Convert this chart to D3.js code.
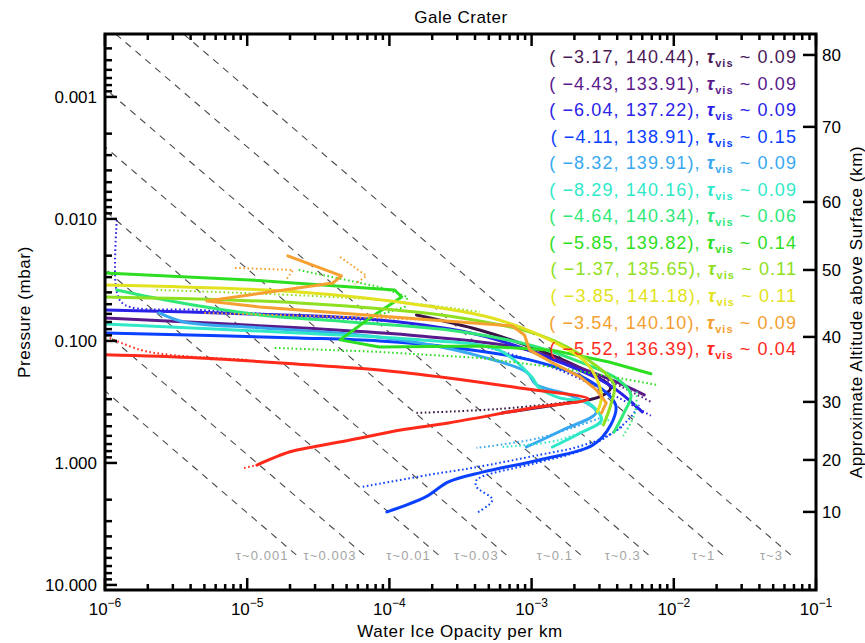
<!DOCTYPE html>
<html><head><meta charset="utf-8">
<script src="https://cdn.jsdelivr.net/npm/d3@7"></script>
<style>
body{margin:0;background:#fff;}
svg{display:block;font-family:"Liberation Sans",Arial,sans-serif;}
</style></head>
<body><svg id="c" width="865" height="643"></svg>
<script>
// ---------------- DATA ----------------
const legendCoords = ["( \u22123.17, 140.44),","( \u22124.43, 133.91),","( \u22126.04, 137.22),","( \u22124.11, 138.91),",
  "( \u22128.32, 139.91),","( \u22128.29, 140.16),","( \u22124.64, 140.34),","( \u22125.85, 139.82),",
  "( \u22121.37, 135.65),","( \u22123.85, 141.18),","( \u22123.54, 140.10),","( \u22125.52, 136.39),"];
const tauVis = ["0.09","0.09","0.09","0.15","0.09","0.09","0.06","0.14","0.11","0.11","0.09","0.04"];
const colors = ["#3a1245","#5a1a8c","#2a22e6","#0a40ff","#38a8f0","#30e8c8","#30e878","#2ede22","#8ee020","#e2e220","#f5a030","#ff2a1a"];
const textColors = ["#4a1a58","#5a1a8c","#2a22e6","#0a40ff","#38a8f0","#30e8c8","#30e878","#2ede22","#8ee020","#e2e220","#f5a030","#ff2a1a"];

// profiles: [opacity per km, pressure mbar]
const solid1 = [[1.55e-4,0.0612],[4.3e-4,0.0813],[1.13e-3,0.119],[2.5e-3,0.180],[3.6e-3,0.243],[3.0e-3,0.288],[1.65e-3,0.328],[6.2e-4,0.389]];
const dotted1 = [[1.55e-4,0.389],[5.9e-4,0.361],[2.5e-3,0.305]];
const solid2 = [[1e-6,0.0648],[2.3e-5,0.078],[1.63e-4,0.091],[8.2e-4,0.114],[2.2e-3,0.166],[4.1e-3,0.221],[6.2e-3,0.277]];
const dotted2 = [[2.5e-3,0.180],[4.3e-3,0.238],[6.9e-3,0.316]];
const solid3 = [[1e-6,0.0557],[1.04e-5,0.0601],[8.5e-5,0.0673],[4.3e-4,0.0893],[1.57e-3,0.149],[3.5e-3,0.229],[6.0e-3,0.382]];
const dotted3a = [[1.21e-6,0.0102],[1.21e-6,0.0397],[1.38e-6,0.0507],[4.6e-6,0.0557],[2.3e-5,0.0624],[1.2e-4,0.0699]];
const dotted3b = [[4.3e-4,0.108],[1.57e-3,0.173],[4.1e-3,0.293],[6.9e-3,0.41]];
const solid4 = [[1e-6,0.086],[2.3e-5,0.0945],[8.5e-5,0.100],[2.6e-4,0.112],[9.7e-4,0.143],[2.5e-3,0.209],[3.9e-3,0.335],[3.6e-3,0.488],[2.7e-3,0.712],[1.13e-3,0.945],[4.5e-4,1.19],[2.6e-4,1.43],[1.8e-4,1.90],[9.6e-5,2.52]];
const dotted4a = [[6.5e-5,1.57],[1.9e-4,1.25],[3.8e-4,1.10],[1.13e-3,0.86],[2.1e-3,0.74],[3.5e-3,0.59],[4.9e-3,0.43],[5.7e-3,0.335]];
const dotted4b = [[4.3e-3,0.507],[2.3e-3,0.78],[1.08e-3,1.0],[4.1e-4,1.38],[4.1e-4,1.57],[5.3e-4,2.01],[4.1e-4,2.57]];
const solid5 = [[2.4e-6,0.059],[3.6e-6,0.0699],[1.22e-5,0.078],[5.3e-5,0.0877],[1.63e-4,0.104],[4.5e-4,0.135],[9.2e-4,0.18],[1.08e-3,0.229],[1.84e-3,0.277],[2.85e-3,0.382],[1.65e-3,0.537],[9.2e-4,0.74]];
const dotted5 = [[3.0e-3,0.43],[1.13e-3,0.624],[4.1e-4,0.753]];
const solid6 = [[1e-6,0.0726],[2.3e-5,0.086],[1.63e-4,0.098],[5.9e-4,0.119],[1.0e-3,0.197],[1.13e-3,0.243],[1.57e-3,0.293],[2.5e-3,0.322],[3.1e-3,0.444],[2.2e-3,0.568],[1.4e-3,0.74]];
const dotted6 = [[3.5e-3,0.444],[1.57e-3,0.648],[6.2e-4,0.74]];
const solid7 = [[1.21e-6,0.0382],[2.07e-6,0.0436],[4.6e-6,0.0517],[1.22e-5,0.0612],[5.3e-5,0.0699],[2.6e-4,0.0813],[9.7e-4,0.108],[2.2e-3,0.149],[4.1e-3,0.209],[5.0e-3,0.277],[4.5e-3,0.382],[3.8e-3,0.557]];
const dotted7 = [[5.5e-3,0.26],[5.3e-3,0.40],[4.4e-3,0.60]];
const solid8 = [[1e-6,0.0277],[1.04e-5,0.0316],[1.09e-4,0.0382],[1.22e-4,0.0436],[7.3e-5,0.0648],[4.5e-5,0.098],[8.5e-5,0.112],[4.3e-4,0.110],[1.4e-3,0.119],[3.5e-3,0.149],[6.9e-3,0.186]];
const dotted8a = [[2.3e-5,0.0262],[8.5e-5,0.0361],[1.34e-4,0.0436],[1.28e-4,0.0526],[8.5e-5,0.0612]];
const dotted8b = [[1.56e-5,0.114],[8.5e-5,0.123],[4.3e-4,0.138],[1.57e-3,0.166],[4.1e-3,0.201],[7.6e-3,0.229]];
const solid9 = [[1e-6,0.0436],[2.3e-5,0.0488],[2.6e-4,0.0624],[1.13e-3,0.0893],[2.5e-3,0.143],[3.8e-3,0.229],[3.6e-3,0.335],[3.2e-3,0.488]];
const dotted9 = [[2.3e-6,0.0382],[8.5e-5,0.0461],[4.3e-4,0.0578]];
const solid10 = [[1e-6,0.0348],[2.3e-5,0.0397],[1.63e-4,0.0507],[5.9e-4,0.0673],[1.57e-3,0.108],[2.5e-3,0.157],[3.1e-3,0.277],[2.9e-3,0.382]];
const solid11 = [[1.93e-5,0.0201],[4.6e-5,0.0293],[4.0e-5,0.0335],[5.2e-6,0.047],[1.22e-5,0.0526],[8.5e-5,0.0624],[3.1e-4,0.0699],[7.3e-4,0.0753],[8.9e-4,0.0893],[9.7e-4,0.119],[1.4e-3,0.151],[2.2e-3,0.197],[2.85e-3,0.252],[3.35e-3,0.322],[3.1e-3,0.389]];
const dotted11a = [[8.2e-6,0.0252],[2.1e-5,0.0262],[1.9e-5,0.031]];
const dotted11b = [[4.5e-5,0.0205],[6.9e-5,0.0293],[5.7e-5,0.0343]];
const dotted11c = [[5.0e-6,0.059],[8.5e-5,0.0648],[3.6e-4,0.0699]];
const solid12 = [[1e-6,0.130],[4.6e-6,0.138],[2.3e-5,0.155],[8.5e-5,0.173],[2.6e-4,0.201],[8.2e-4,0.243],[2.5e-3,0.299],[1.0e-3,0.354],[2.6e-4,0.470],[1.2e-4,0.537],[5.3e-5,0.648],[2.9e-5,0.739],[2.0e-5,0.81],[1.17e-5,1.04]];
const dotted12a = [[1.08e-6,0.0945],[1.76e-6,0.118],[2.86e-6,0.130],[1.04e-5,0.143]];
const dotted12b = [[9.5e-6,1.10],[1.17e-5,1.04]];

const solids = [solid1,solid2,solid3,solid4,solid5,solid6,solid7,solid8,solid9,solid10,solid11,solid12];
const dotteds = [[dotted1],[dotted2],[dotted3a,dotted3b],[dotted4a,dotted4b],[dotted5],[dotted6],[dotted7],[dotted8a,dotted8b],[dotted9],[],[dotted11a,dotted11b,dotted11c],[dotted12a,dotted12b]];
const sharpProfiles = [7,10]; // profiles drawn with straight segments (zig-zags)

const pressureTicks = [0.001,0.01,0.1,1,10];
const pressureTickLabels = ["0.001","0.010","0.100","1.000","10.000"];
const xMajorTicks = [1e-6,1e-5,1e-4,1e-3,1e-2,1e-1];
const xTickExponents = ["\u22126","\u22125","\u22124","\u22123","\u22122","\u22121"];
const altTicks = [10,20,30,40,50,60,70,80];
const altPressures = [2.52,0.945,0.316,0.0927,0.0262,0.00726,0.00176,0.000453];
const tauValues = [0.001,0.003,0.01,0.03,0.1,0.3,1,3];
const tauLabels = ["\u03c4~0.001","\u03c4~0.003","\u03c4~0.01","\u03c4~0.03","\u03c4~0.1","\u03c4~0.3","\u03c4~1","\u03c4~3"];
const tauFactor = 0.0039;   // opacity per km = tau * p * factor along reference lines
const tauLineBottomP = 6.0;

// ---------------- DRAW ----------------
const L=105,R=816,T=34,B=590;
const svg = d3.select("#c");
const x = d3.scaleLog().domain([1e-6,1e-1]).range([L,R]);
const y = d3.scaleLog().domain([3.05e-4,11]).range([T,B]);

svg.append("defs").append("clipPath").attr("id","clip")
  .append("rect").attr("x",L).attr("y",T).attr("width",R-L).attr("height",B-T);
const plot = svg.append("g").attr("clip-path","url(#clip)");

// tau reference lines
tauValues.forEach((t,i)=>{
  const pTop = 3.05e-4;
  plot.append("line")
    .attr("x1",x(t*pTop*tauFactor)).attr("y1",y(pTop))
    .attr("x2",x(t*tauLineBottomP*tauFactor)).attr("y2",y(tauLineBottomP))
    .attr("stroke","#4a4a4a").attr("stroke-width",1.1).attr("stroke-dasharray","7,6");
  svg.append("text").attr("x",x(t*tauLineBottomP*tauFactor)-11).attr("y",560)
    .attr("text-anchor","end").attr("fill","#a4a4a4").attr("font-size",13)
    .attr("letter-spacing","1.1px").text(tauLabels[i]);
});

const lineSmooth = d3.line().x(d=>x(d[0])).y(d=>y(d[1])).curve(d3.curveCatmullRom.alpha(0.5));
const lineSharp = d3.line().x(d=>x(d[0])).y(d=>y(d[1]));
solids.forEach((s,i)=>{
  const ln = sharpProfiles.includes(i)?lineSharp:lineSmooth;
  dotteds[i].forEach(dd=>{
    plot.append("path").attr("d",ln(dd)).attr("fill","none").attr("stroke",colors[i])
      .attr("stroke-width",2).attr("stroke-dasharray","1.6,2.6");
  });
  plot.append("path").attr("d",ln(s)).attr("fill","none").attr("stroke",colors[i])
    .attr("stroke-width",3).attr("stroke-linejoin","round").attr("stroke-linecap","round");
});

// frame
const ax = svg.append("g").attr("stroke","#000");
ax.append("rect").attr("x",L).attr("y",T).attr("width",R-L).attr("height",B-T)
  .attr("fill","none").attr("stroke-width",3);

// x ticks (top & bottom)
x.ticks().forEach(v=>{
  const major = xMajorTicks.some(m=>Math.abs(Math.log10(m)-Math.log10(v))<1e-6);
  const len = major?12:6;
  ax.append("line").attr("x1",x(v)).attr("x2",x(v)).attr("y1",B).attr("y2",B-len).attr("stroke-width",2.5);
  ax.append("line").attr("x1",x(v)).attr("x2",x(v)).attr("y1",T).attr("y2",T+len).attr("stroke-width",2.5);
});
xMajorTicks.forEach((v,i)=>{
  const t = svg.append("text").attr("x",x(v)).attr("y",615).attr("text-anchor","middle").attr("font-size",17);
  t.append("tspan").text("10");
  t.append("tspan").attr("dy",-8).attr("font-size",12).text(xTickExponents[i]);
});

// y ticks (left)
y.ticks().filter(v=>v>=3.05e-4&&v<=11).forEach(v=>{
  const major = pressureTicks.some(m=>Math.abs(Math.log10(m)-Math.log10(v))<1e-6);
  const len = major?12:7;
  ax.append("line").attr("x1",L).attr("x2",L+len).attr("y1",y(v)).attr("y2",y(v)).attr("stroke-width",2.5);
});
pressureTicks.forEach((v,i)=>{
  svg.append("text").attr("x",97).attr("y",y(v)+6).attr("text-anchor","end").attr("font-size",17)
    .text(pressureTickLabels[i]);
});

// right altitude axis
altTicks.forEach((a,i)=>{
  const yy = y(altPressures[i]);
  ax.append("line").attr("x1",R).attr("x2",R-13).attr("y1",yy).attr("y2",yy).attr("stroke-width",2.5);
  svg.append("text").attr("x",822).attr("y",yy+6).attr("font-size",17).text(a);
});

// titles
svg.append("text").attr("x",461).attr("y",23).attr("text-anchor","middle").attr("font-size",17)
  .attr("letter-spacing","0.5px").text("Gale Crater");
svg.append("text").attr("x",460).attr("y",637).attr("text-anchor","middle").attr("font-size",17)
  .attr("letter-spacing","0.6px").text("Water Ice Opacity per km");
svg.append("text").attr("transform","translate(30,312) rotate(-90)").attr("text-anchor","middle")
  .attr("font-size",17).attr("letter-spacing","0.6px").text("Pressure (mbar)");
svg.append("text").attr("transform","translate(862,312) rotate(-90)").attr("text-anchor","middle")
  .attr("font-size",17).attr("letter-spacing","0.6px").text("Approximate Altitude above Surface (km)");

// legend
legendCoords.forEach((c,i)=>{
  const t = svg.append("text").attr("x",797).attr("y",63+i*26.55).attr("text-anchor","end")
    .attr("font-size",18).attr("fill",textColors[i]).attr("letter-spacing","1.1px");
  t.append("tspan").text(c+" ");
  t.append("tspan").attr("font-style","italic").attr("font-weight","bold").text("\u03c4");
  t.append("tspan").attr("font-size",11).attr("dy",4).attr("font-weight","bold").text("vis");
  t.append("tspan").attr("dy",-4).text(" ~ "+tauVis[i]);
});
</script></body></html>
